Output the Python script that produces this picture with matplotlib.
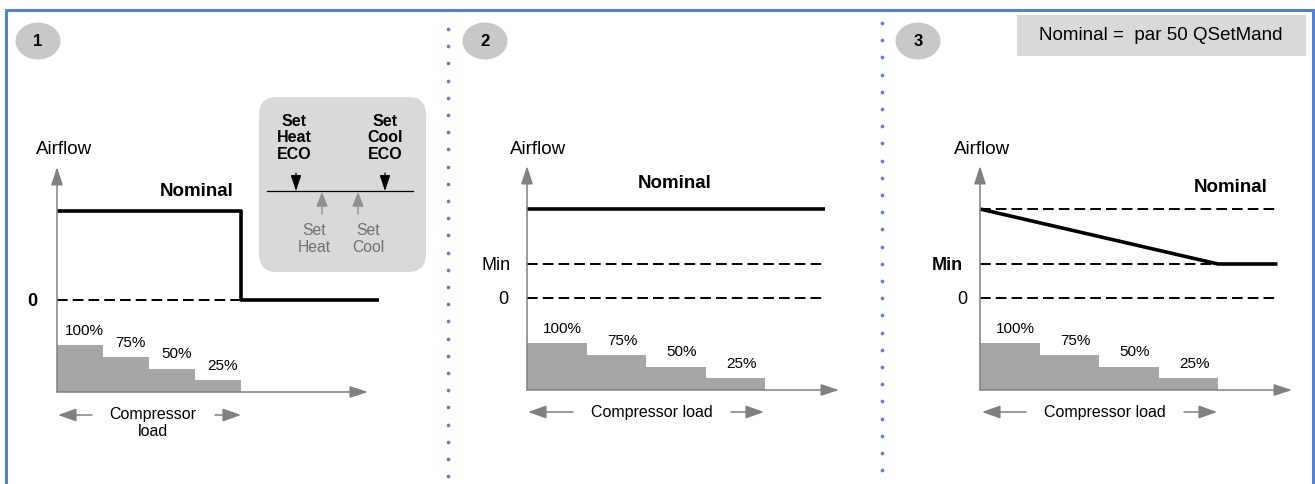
import numpy as np
import matplotlib.pyplot as plt
from matplotlib.patches import Ellipse, Rectangle, FancyBboxPatch

plt.rcParams['font.family'] = ['Liberation Sans', 'DejaVu Sans']

# compressor load steps
loads = [100, 75, 50, 25]
load_labels = ['100%', '75%', '50%', '25%']

# airflow levels (height above the load axis)
levels = {'zero': 92, 'min': 126, 'nominal': 181}

# airflow curves per panel: position in load steps, level name
curve_x = [[0, 4, 4, 7], [0, 5], [0, 4, 5]]
curve_lvl = [['nominal', 'nominal', 'zero', 'zero'],
             ['nominal', 'nominal'],
             ['nominal', 'min', 'min']]
# dashed reference lines per panel: (level, end position)
dashed = [[('zero', 4)], [('min', 5), ('zero', 5)],
          [('nominal', 5), ('min', 5), ('zero', 5)]]
level_text = [[('zero', '0', True, -0.54)],
              [('min', 'Min', False, -0.52), ('zero', '0', False, -0.40)],
              [('min', 'Min', True, -0.55), ('zero', '0', False, -0.30)]]
nominal_pos = [(3.04, 201), (2.49, 208), (4.22, 203)]

# panel geometry in pixels: origin x, baseline y, bar width, x-axis tip, y-axis tip
panels = [(57, 393, 46, 368, 168), (527, 391, 59.5, 839, 167), (980, 391, 59.5, 1292, 167)]

W, H = 1315, 485
fig = plt.figure(figsize=(W / 100, H / 100), dpi=100)
bg = fig.add_axes([0, 0, 1, 1])
bg.set_xlim(0, W)
bg.set_ylim(H, 0)
bg.axis('off')

blue = '#5580d4'
grey_ax = '#808080'

# frame and separators
bg.plot([6, 6, 1313, 1313], [490, 11, 11, 490], color=blue, lw=2.2, solid_joinstyle='miter')
bg.scatter(np.full(27, 448.5), np.arange(30, 485, 17.2)[:27], s=7, color=blue, lw=0)
bg.scatter(np.full(27, 882), np.arange(24, 485, 17.2)[:27], s=7, color=blue, lw=0)

# numbered badges
for cx, num in zip([38, 485, 918], ['1', '2', '3']):
    bg.add_patch(Ellipse((cx, 42), 45, 37, color='#c8c8c8', lw=0))
    bg.text(cx, 42, num, ha='center', va='center', fontsize=12, fontweight='bold')

# top-right note
bg.add_patch(Rectangle((1017, 16), 289, 41, color='#d9d9d9', lw=0))
bg.text(1161, 36, 'Nominal =  par 50 QSetMand', ha='center', va='center', fontsize=13.5)

# setpoint inset (panel 1)
bg.add_patch(FancyBboxPatch((259, 98), 167, 175, boxstyle='round,pad=0,rounding_size=18',
                            color='#d9d9d9', lw=0))
bg.plot([267, 413], [192, 192], color='black', lw=0.9)
for x, t in [(294, 'Set\nHeat\nECO'), (385, 'Set\nCool\nECO')]:
    bg.text(x, 138, t, ha='center', va='center', fontsize=11.5, fontweight='bold',
            linespacing=1.16)
for x in [296, 385]:
    bg.annotate('', xy=(x, 192), xytext=(x, 174),
                arrowprops=dict(arrowstyle='-|>,head_length=0.6,head_width=0.2', mutation_scale=16,
                                color='black', lw=0.9, shrinkA=0, shrinkB=0))
for x in [322, 358]:
    bg.annotate('', xy=(x, 193), xytext=(x, 215),
                arrowprops=dict(arrowstyle='-|>,head_length=0.55,head_width=0.22', mutation_scale=16,
                                color='#909090', lw=1, shrinkA=0, shrinkB=0))
for x, t in [(314, 'Set\nHeat'), (368, 'Set\nCool')]:
    bg.text(x, 239, t, ha='center', va='center', fontsize=11.3, color='#707070', linespacing=1.15)

# Airflow labels and compressor load captions
for x in [64.5, 538.5, 982]:
    bg.text(x, 150, 'Airflow', ha='center', va='center', fontsize=13.5)
captions = [(153, 423, 'Compressor\nload', 92, 58, 215, 241, 416),
            (652, 413, 'Compressor load', 573, 528, 731, 764, 413),
            (1105, 413, 'Compressor load', 1026, 982, 1184, 1217, 413)]
arr = dict(arrowstyle='-|>,head_length=0.7,head_width=0.25', mutation_scale=16,
           color=grey_ax, lw=1.1, shrinkA=0, shrinkB=0)
for tx, ty, t, l0, l1, r0, r1, ay in captions:
    bg.text(tx, ty, t, ha='center', va='center', fontsize=11.5, linespacing=1.1)
    bg.annotate('', xy=(l1, ay), xytext=(l0, ay), arrowprops=arr)
    bg.annotate('', xy=(r1, ay), xytext=(r0, ay), arrowprops=arr)

# chart panels
for i, (x0, base, bw, xtip, ytip) in enumerate(panels):
    w_px, h_px = xtip - x0, base - ytip
    ax = fig.add_axes([x0 / W, (H - base) / H, w_px / W, h_px / H])
    ax.set_xlim(0, w_px / bw)
    ax.set_ylim(0, h_px)
    ax.axis('off')
    ax.patch.set_alpha(0)

    heights = np.array(loads) * 0.47
    ax.bar(np.arange(len(loads)), heights, width=1, align='edge', color='#a6a6a6', lw=0)
    for j, (h, lab) in enumerate(zip(heights, load_labels)):
        ax.text(j + 0.6, h + 15, lab, ha='center', va='center', fontsize=11)

    for lvl, end in dashed[i]:
        ax.plot([0, end], [levels[lvl]] * 2, color='black', lw=1.4,
                linestyle=(0, (5.5, 2.6)), clip_on=False)
    ax.plot(curve_x[i], [levels[l] for l in curve_lvl[i]], color='black', lw=2.6,
            solid_capstyle='butt', clip_on=False)

    for lvl, t, bold, xp in level_text[i]:
        ax.text(xp, levels[lvl], t, ha='center', va='center', fontsize=13,
                fontweight='bold' if bold else 'normal', clip_on=False)
    nx, ny = nominal_pos[i]
    ax.text(nx, ny, 'Nominal', ha='center', va='center', fontsize=13.5, fontweight='bold')

    axis_arr = dict(arrowstyle='-|>,head_length=0.55,head_width=0.18', mutation_scale=20,
                    color=grey_ax, lw=1.1, shrinkA=0, shrinkB=0)
    ax.annotate('', xy=(0, 1), xytext=(0, 0), xycoords='axes fraction', arrowprops=axis_arr)
    ax.annotate('', xy=(1, 0), xytext=(0, 0), xycoords='axes fraction', arrowprops=axis_arr)

fig.savefig('out.png', dpi=100)
